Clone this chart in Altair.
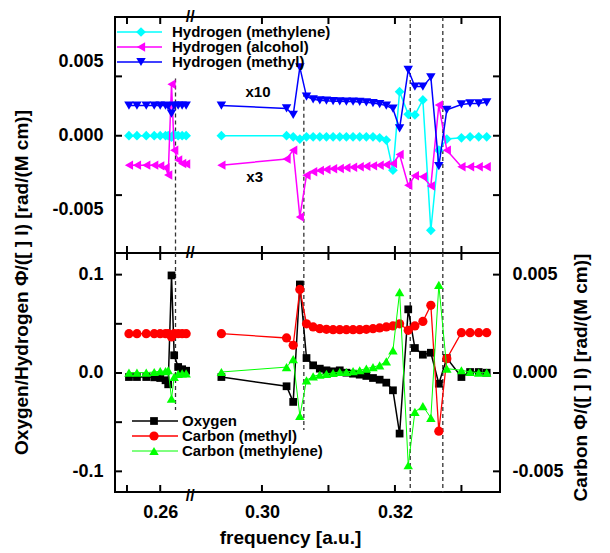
import altair as alt
import pandas as pd

FONT = "Liberation Sans"

# ---------------- data ----------------
freq_left = [0.2553, 0.2565, 0.2579, 0.2591, 0.2600, 0.2608, 0.2612, 0.2617, 0.2621, 0.2627, 0.2633, 0.2639]
freq_right = [0.2939, 0.3037, 0.3047, 0.3057, 0.3067, 0.3077, 0.3087, 0.3097, 0.3107, 0.3117,
              0.3127, 0.3137, 0.3147, 0.3157, 0.3167, 0.3177, 0.3187, 0.3197, 0.3207, 0.3220,
              0.3230, 0.3242, 0.3254, 0.3266, 0.3278, 0.3300, 0.3313, 0.3326, 0.3338]
freq = freq_left + freq_right

h_methylene = [0.0, 0.0, 0.0, 0.0, 0.0, 0.0, 0.0, -0.0001, 0.0001, 0.0, 0.0, 0.0,
               0.0, 0.0, -0.00007, -0.00022, -0.00007, -0.00007, -0.00007, -0.00007, -0.00007, -0.00007,
               -0.00007, -0.00007, -0.00007, -0.00007, -0.00007, -0.00014, -0.00029, -0.00232, 0.00297, 0.00144,
               0.00140, 0.00241, -0.00637, -0.00097, -0.00022, -0.00014, -0.00007, -0.00007, -0.00007]
h_alcohol = [-0.00198, -0.00198, -0.00198, -0.00198, -0.00203, -0.00216, -0.00264, 0.00347, -0.00097, -0.00164, -0.00187, -0.00191,
             -0.00198, -0.00157, -0.00097, -0.00547, -0.00266, -0.00243, -0.00234, -0.00228, -0.00223, -0.00220,
             -0.00216, -0.00213, -0.00209, -0.00206, -0.00203, -0.00199, -0.00196, -0.00187, -0.00126, -0.00333,
             -0.00270, -0.00277, -0.00338, 0.00207, -0.00097, -0.00209, -0.00209, -0.00209, -0.00209]
h_methyl = [0.00203, 0.00203, 0.00203, 0.00203, 0.00203, 0.00203, 0.00200, 0.00149, 0.00203, 0.00203, 0.00203, 0.00203,
            0.00203, 0.00184, 0.00140, 0.00461, 0.00264, 0.00245, 0.00239, 0.00236, 0.00233, 0.00232,
            0.00230, 0.00230, 0.00228, 0.00225, 0.00220, 0.00213, 0.00203, 0.00182, 0.00049, 0.00444,
            0.00331, 0.00331, 0.00394, -0.00205, 0.00174, 0.00211, 0.00218, 0.00218, 0.00225]
oxygen = [-0.0041, -0.0041, -0.0041, -0.0044, -0.0051, -0.0074, -0.0115, 0.0992, 0.0180, 0.0061, 0.0038, 0.0023,
          -0.0041, -0.0135, -0.0294, 0.0900, 0.0152, 0.0078, 0.0044, 0.0027, 0.0017, 0.0027,
          0.0003, -0.0007, -0.0017, -0.0030, -0.0051, -0.0068, -0.0098, -0.0176, -0.0616, 0.0647,
          0.0254, 0.0186, 0.0206, -0.0109, 0.0152, -0.0041, 0.0010, 0.0010, 0.0003]
c_methyl = [0.00200, 0.00200, 0.00200, 0.00200, 0.00200, 0.00200, 0.00200, 0.00183, 0.00200, 0.00200, 0.00200, 0.00200,
            0.00200, 0.00178, 0.00141, 0.00425, 0.00250, 0.00234, 0.00225, 0.00222, 0.00220, 0.00220,
            0.00220, 0.00220, 0.00220, 0.00222, 0.00225, 0.00229, 0.00234, 0.00239, 0.00250, 0.00217,
            0.00239, 0.00262, 0.00344, -0.00296, 0.00073, 0.00205, 0.00205, 0.00205, 0.00205]
c_methylene = [0.00002, 0.00002, 0.00002, 0.00005, 0.00009, 0.00010, 0.00014, -0.00130, -0.00020, -0.00004, -0.00002, -0.00002,
               0.00005, 0.00030, 0.00070, -0.00218, -0.00037, -0.00017, -0.00009, -0.00004, 0.00000, 0.00005,
               0.00005, 0.00010, 0.00014, 0.00022, 0.00030, 0.00039, 0.00059, 0.00115, 0.00411, -0.00469,
               -0.00198, -0.00168, -0.00228, 0.00448, 0.00022, 0.00014, 0.00005, 0.00002, 0.00002]

for arr in (h_methylene, h_alcohol, h_methyl, oxygen, c_methyl, c_methylene):
    assert len(arr) == len(freq), len(arr)

# dashed guide lines
dash_f = [0.2623, 0.3063, 0.3223, 0.3272]
dash_top_start = [0.00385, 0.0029, 0.0080, 0.0080]
dash_bot_end = [-0.0376, -0.0579, -0.121, -0.121]

# annotations
note_f = [0.2994, 0.2989]
note_v = [0.00297, -0.00277]
note_txt = ["x10", "x3"]

# axis ticks / labels
xtick_f = [0.255, 0.26, 0.30, 0.31, 0.32, 0.33]
xlabel_f = [0.26, 0.30, 0.32]
top_tick_v = [-0.004, 0.0, 0.004]
top_label_v = [-0.005, 0.0, 0.005]
bot_tick_v = [-0.1, -0.05, 0.0, 0.05, 0.1]
bot_label_v = [-0.1, 0.0, 0.1]
car_v = [-0.005, 0.0, 0.005]

top_names = ["Hydrogen (methylene)", "Hydrogen (alcohol)", "Hydrogen (methyl)"]
top_colors = ["#00FFFF", "#FF00FF", "#0000FF"]
top_shapes = ["diamond", "triangle-left", "triangle-down"]
bot_names = ["Oxygen", "Carbon (methyl)", "Carbon (methylene)"]
bot_colors = ["#000000", "#FF0000", "#00FF00"]
bot_shapes = ["square", "circle", "triangle-up"]

# ---------------- broken x axis ----------------
BREAK_LO = 0.2645
BREAK_HI = 0.2892
GAP = round(BREAK_HI - BREAK_LO, 6)
X_MIN, X_MAX = 0.2532, 0.3358
XP = f"datum.f <= {BREAK_LO} ? datum.f : datum.f - {GAP}"
SEG = f"datum.f <= {BREAK_LO} ? 'L' : 'R'"


def xp(f):
    return f if f <= BREAK_LO else round(f - GAP, 6)


XSCALE = alt.Scale(domain=[X_MIN, xp(X_MAX)], nice=False, zero=False)
W, HT, HB = 385, 236, 239
TOP_DOM = [-0.0079, 0.0080]
BOT_DOM = [-0.121, 0.122]
CAR_DOM = [BOT_DOM[0] / 20, BOT_DOM[1] / 20]
TOPY = alt.Scale(domain=TOP_DOM, nice=False, zero=False)
BOTY = alt.Scale(domain=BOT_DOM, nice=False, zero=False)
CARY = alt.Scale(domain=CAR_DOM, nice=False, zero=False)
SIZES = {"diamond": 95, "triangle-left": 90, "triangle-down": 90, "square": 60, "circle": 85, "triangle-up": 90}


def lab_expr(fmt):
    return f"datum.value < 0 ? '-' + format(-datum.value, '{fmt}') : format(datum.value, '{fmt}')"


def xenc(axis):
    return alt.X("xp:Q", scale=XSCALE, axis=axis)


def series(values, color, shape, yscale, yaxis, xaxis, width=1.5):
    df = pd.DataFrame({"f": freq, "v": values})
    base = alt.Chart(df).transform_calculate(xp=XP, seg=SEG)
    line = base.mark_line(color=color, strokeWidth=width).encode(
        x=xenc(xaxis), y=alt.Y("v:Q", scale=yscale, axis=yaxis), detail="seg:N")
    pts = base.mark_point(shape=shape, filled=True, size=SIZES[shape], color=color, opacity=1).encode(
        x=xenc(xaxis), y=alt.Y("v:Q", scale=yscale, axis=yaxis))
    return [line, pts]


def xticks(h, xaxis):
    base = alt.Chart(pd.DataFrame({"f": xtick_f})).transform_calculate(xp=XP)
    t1 = base.mark_rule(color="black", strokeWidth=2).encode(x=xenc(xaxis), y=alt.value(0), y2=alt.value(7))
    t2 = base.mark_rule(color="black", strokeWidth=2).encode(x=xenc(xaxis), y=alt.value(h), y2=alt.value(h - 7))
    return [t1, t2]


def yticks(vals, yscale, yaxis, left=True, right=True):
    base = alt.Chart(pd.DataFrame({"v": vals}))
    out = []
    if left:
        out.append(base.mark_rule(color="black", strokeWidth=2).encode(
            y=alt.Y("v:Q", scale=yscale, axis=yaxis), x=alt.value(0), x2=alt.value(7)))
    if right:
        out.append(base.mark_rule(color="black", strokeWidth=2).encode(
            y=alt.Y("v:Q", scale=yscale, axis=yaxis), x=alt.value(W), x2=alt.value(W - 7)))
    return out


def dashes(y1, y2, yscale, yaxis, xaxis):
    df = pd.DataFrame({"f": dash_f, "v": y1, "v2": y2})
    return alt.Chart(df).transform_calculate(xp=XP).mark_rule(
        color="#333333", strokeWidth=1.3, strokeDash=[4, 3]).encode(
        x=xenc(xaxis), y=alt.Y("v:Q", scale=yscale, axis=yaxis), y2="v2:Q")


def breaks(ys, xaxis):
    out = []
    for yv in ys:
        out.append(alt.Chart(pd.DataFrame({"f": [BREAK_LO]})).transform_calculate(xp=XP).mark_text(
            text="//", font=FONT, fontSize=16, fontWeight="bold", color="black", align="center",
            baseline="middle").encode(x=xenc(xaxis), y=alt.value(yv)))
    return out


def legend(names, colors, shapes, x0, x1, xm, xt, y0, dy, widths):
    one = pd.DataFrame({"a": [0]})
    out = []
    for i, (n, c, s, w) in enumerate(zip(names, colors, shapes, widths)):
        yv = y0 + dy * i
        out.append(alt.Chart(one).mark_rule(color=c, strokeWidth=w).encode(
            x=alt.value(x0), x2=alt.value(x1), y=alt.value(yv)))
        out.append(alt.Chart(one).mark_point(shape=s, filled=True, size=SIZES[s], color=c, opacity=1).encode(
            x=alt.value(xm), y=alt.value(yv)))
        out.append(alt.Chart(one).mark_text(text=n, font=FONT, fontSize=15, fontWeight="bold",
                                            color="black", align="left", baseline="middle").encode(
            x=alt.value(xt), y=alt.value(yv)))
    return out


# ---------------- axes ----------------
top_axis = alt.Axis(values=top_label_v, labelExpr=lab_expr(".3f"), tickSize=0, domain=False, grid=False,
                    labelPadding=12, labelFontSize=18, labelOverlap=False,
                    title="Oxygen/Hydrogen Φ/([ ] l) [rad/(M cm)]", titleFontSize=19, titlePadding=20,
                    titleY=265, orient="left")
x_axis = alt.Axis(values=[xp(f) for f in xlabel_f],
                  labelExpr=f"format(datum.value > {BREAK_LO} ? datum.value + {GAP} : datum.value, '.2f')",
                  tickSize=0, domain=False, grid=False, labelPadding=11, labelFontSize=18, labelOverlap=False,
                  title="frequency [a.u.]", titleFontSize=19, titlePadding=7, titleX=175, orient="bottom")
bot_axis = alt.Axis(values=bot_label_v, labelExpr=lab_expr(".1f"), tickSize=0, domain=False, grid=False,
                    labelPadding=12, labelFontSize=18, labelOverlap=False, title="", orient="left")
car_axis = alt.Axis(values=car_v, labelExpr=lab_expr(".3f"), tickSize=0, domain=False, grid=False,
                    labelPadding=12, labelFontSize=18, labelOverlap=False, orient="right",
                    title="Carbon Φ/([ ] l) [rad/(M cm)]", titleFontSize=19, titlePadding=8,
                    titleAngle=270, titleBaseline="top", titleY=124)

# ---------------- top panel ----------------
top_layers = [dashes(dash_top_start, [TOP_DOM[0]] * len(dash_f), TOPY, top_axis, None)]
top_layers += series(h_methylene, top_colors[0], top_shapes[0], TOPY, top_axis, None)
top_layers += series(h_alcohol, top_colors[1], top_shapes[1], TOPY, top_axis, None)
top_layers += series(h_methyl, top_colors[2], top_shapes[2], TOPY, top_axis, None)
top_layers += xticks(HT, None) + yticks(top_tick_v, TOPY, top_axis)
top_layers.append(alt.Chart(pd.DataFrame({"f": note_f, "v": note_v, "t": note_txt})).transform_calculate(xp=XP)
                  .mark_text(font=FONT, fontSize=15, fontWeight="bold", color="black")
                  .encode(x=xenc(None), y=alt.Y("v:Q", scale=TOPY, axis=top_axis), text="t:N"))
top_layers += legend(top_names, top_colors, top_shapes, 2, 47, 26, 57, 15, 15, [1.5, 1.5, 1.5])
top_layers += breaks([0, HT], None)
top = alt.layer(*top_layers).properties(width=W, height=HT)

# ---------------- bottom panel ----------------
left_layers = [dashes([BOT_DOM[1]] * len(dash_f), dash_bot_end, BOTY, bot_axis, x_axis)]
left_layers += series(oxygen, bot_colors[0], bot_shapes[0], BOTY, bot_axis, x_axis)
left_layers += xticks(HB, x_axis) + yticks(bot_tick_v, BOTY, bot_axis, right=False)
left_layers += legend(bot_names, bot_colors, bot_shapes, 17, 63, 39, 67, 168, 15, [1.5, 1.3, 1.0])
left_layers += breaks([HB + 4], x_axis)
left_group = alt.layer(*left_layers)

right_layers = series(c_methyl, bot_colors[1], bot_shapes[1], CARY, car_axis, x_axis, width=1.3)
right_layers += series(c_methylene, bot_colors[2], bot_shapes[2], CARY, car_axis, x_axis, width=1.0)
right_layers += yticks(car_v, CARY, car_axis, left=False)
right_group = alt.layer(*right_layers)

bottom = alt.layer(left_group, right_group).resolve_scale(y="independent").properties(width=W, height=HB)

chart = alt.vconcat(top, bottom, spacing=0, bounds="flush").properties(
    padding={"left": 3, "top": 0, "right": 5, "bottom": 0},
).configure_view(stroke="black", strokeWidth=2).configure_axis(
    labelFont=FONT, titleFont=FONT, labelFontWeight="bold", titleFontWeight="bold",
    labelColor="black", titleColor="black", grid=False)

chart.save("out.html", embed_options={"renderer": "svg", "actions": False})
